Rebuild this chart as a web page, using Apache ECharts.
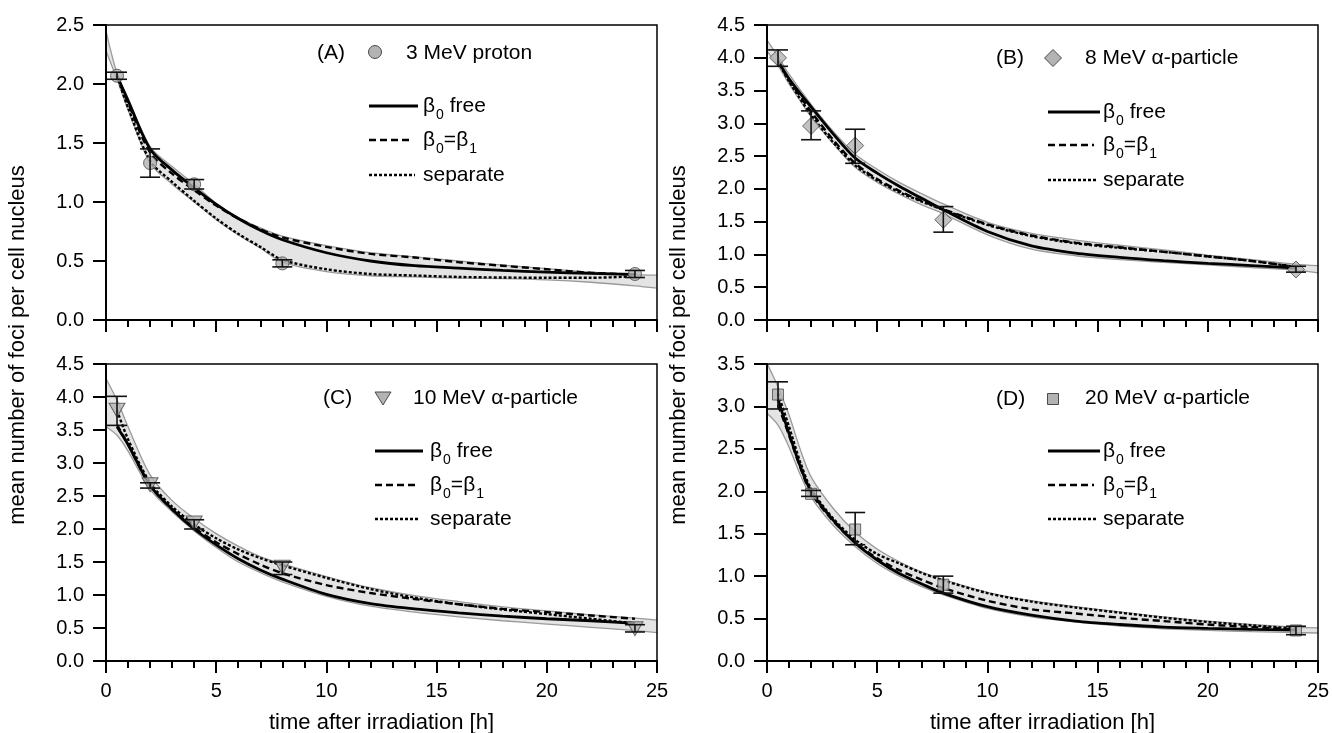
<!DOCTYPE html>
<html><head><meta charset="utf-8">
<script src="https://cdn.jsdelivr.net/npm/echarts@6/dist/echarts.min.js"></script>
<style>html,body{margin:0;padding:0;background:#fff}#c{width:1332px;height:733px}</style>
</head><body><div id="c"></div>
<script>
// ---------------- DATA ----------------
const pointT = [0.5, 2, 4, 8, 24];
const fitT = [0.5, 1, 2, 3, 4, 5, 6, 7, 8, 10, 12, 14, 16, 18, 20, 22, 24];
const bandT = [0, 0.5, 1, 2, 3, 4, 5, 6, 7, 8, 10, 12, 14, 16, 18, 20, 22, 24, 25];
const fitT_D = [0.5, 1, 1.5, 2, 3, 4, 5, 6, 7, 8, 10, 12, 14, 16, 18, 20, 22, 24];
const bandT_D = [0, 0.5, 1, 1.5, 2, 3, 4, 5, 6, 7, 8, 10, 12, 14, 16, 18, 20, 22, 24, 25];

// Panel A: 3 MeV proton
const pointsA = [2.07, 1.33, 1.15, 0.48, 0.39];
const errLoA = [2.04, 1.21, 1.11, 0.45, 0.36];
const errHiA = [2.10, 1.45, 1.19, 0.51, 0.42];
const solidA = [2.07, 1.86, 1.45, 1.27, 1.12, 0.98, 0.86, 0.76, 0.68, 0.57, 0.50, 0.46, 0.44, 0.42, 0.405, 0.395, 0.387];
const dashedA = [2.07, 1.84, 1.42, 1.24, 1.10, 0.97, 0.86, 0.77, 0.70, 0.62, 0.56, 0.53, 0.49, 0.46, 0.43, 0.40, 0.385];
const dottedA = [2.07, 1.80, 1.35, 1.17, 1.01, 0.86, 0.73, 0.62, 0.51, 0.43, 0.39, 0.377, 0.365, 0.36, 0.358, 0.358, 0.37];
const bandUpA = [2.45, 2.09, 1.88, 1.47, 1.30, 1.15, 0.99, 0.87, 0.78, 0.71, 0.63, 0.57, 0.535, 0.50, 0.465, 0.435, 0.405, 0.385, 0.38];
const bandLoA = [2.28, 2.04, 1.78, 1.33, 1.15, 1.00, 0.85, 0.72, 0.61, 0.49, 0.41, 0.375, 0.365, 0.355, 0.35, 0.34, 0.32, 0.29, 0.27];

// Panel B: 8 MeV alpha
const pointsB = [4.00, 2.96, 2.66, 1.53, 0.77];
const errLoB = [3.87, 2.75, 2.39, 1.34, 0.73];
const errHiB = [4.12, 3.19, 2.91, 1.73, 0.82];
const solidB = [3.95, 3.68, 3.25, 2.84, 2.47, 2.24, 2.04, 1.86, 1.68, 1.35, 1.13, 1.02, 0.955, 0.905, 0.865, 0.83, 0.79];
const dashedB = [3.95, 3.66, 3.18, 2.75, 2.39, 2.15, 1.97, 1.82, 1.69, 1.46, 1.29, 1.18, 1.11, 1.04, 0.97, 0.90, 0.81];
const dottedB = [3.95, 3.64, 3.13, 2.71, 2.36, 2.13, 1.95, 1.81, 1.68, 1.45, 1.28, 1.17, 1.10, 1.04, 0.97, 0.90, 0.81];
const bandUpB = [4.27, 4.02, 3.75, 3.29, 2.88, 2.53, 2.30, 2.10, 1.93, 1.77, 1.49, 1.32, 1.22, 1.14, 1.07, 0.99, 0.92, 0.85, 0.83];
const bandLoB = [4.10, 3.88, 3.60, 3.10, 2.69, 2.33, 2.10, 1.92, 1.76, 1.62, 1.30, 1.08, 0.98, 0.92, 0.88, 0.84, 0.80, 0.76, 0.72];

// Panel C: 10 MeV alpha
const pointsC = [3.80, 2.67, 2.09, 1.42, 0.49];
const errLoC = [3.57, 2.62, 2.00, 1.31, 0.44];
const errHiC = [4.01, 2.70, 2.14, 1.50, 0.55];
const solidC = [3.55, 3.28, 2.66, 2.30, 2.00, 1.76, 1.55, 1.38, 1.24, 1.01, 0.87, 0.79, 0.73, 0.68, 0.64, 0.61, 0.57];
const dashedC = [3.58, 3.28, 2.66, 2.30, 2.02, 1.80, 1.62, 1.46, 1.33, 1.15, 1.03, 0.94, 0.86, 0.79, 0.74, 0.69, 0.64];
const dottedC = [3.80, 3.36, 2.70, 2.34, 2.07, 1.86, 1.69, 1.56, 1.45, 1.26, 1.09, 0.96, 0.86, 0.78, 0.71, 0.64, 0.57];
const bandUpC = [4.28, 3.95, 3.55, 2.82, 2.43, 2.16, 1.93, 1.74, 1.58, 1.47, 1.28, 1.11, 0.99, 0.90, 0.82, 0.76, 0.70, 0.65, 0.62];
const bandLoC = [3.55, 3.42, 3.18, 2.60, 2.26, 1.97, 1.72, 1.50, 1.34, 1.20, 0.98, 0.83, 0.74, 0.67, 0.61, 0.56, 0.51, 0.46, 0.43];

// Panel D: 20 MeV alpha
const pointsD = [3.14, 1.97, 1.55, 0.90, 0.36];
const errLoD = [2.97, 1.94, 1.37, 0.80, 0.31];
const errHiD = [3.29, 2.01, 1.75, 1.00, 0.41];
const solidD = [3.08, 2.68, 2.30, 2.00, 1.66, 1.39, 1.19, 1.03, 0.91, 0.80, 0.64, 0.54, 0.47, 0.43, 0.40, 0.385, 0.373, 0.365];
const dashedD = [3.02, 2.66, 2.29, 1.98, 1.65, 1.40, 1.21, 1.07, 0.96, 0.86, 0.71, 0.61, 0.56, 0.51, 0.47, 0.43, 0.40, 0.375];
const dottedD = [3.15, 2.76, 2.35, 2.03, 1.68, 1.43, 1.26, 1.15, 1.04, 0.95, 0.80, 0.70, 0.63, 0.57, 0.51, 0.46, 0.42, 0.38];
const bandUpD = [3.51, 3.23, 2.90, 2.50, 2.17, 1.80, 1.52, 1.32, 1.17, 1.05, 0.96, 0.81, 0.71, 0.64, 0.58, 0.52, 0.47, 0.43, 0.40, 0.39];
const bandLoD = [2.92, 2.78, 2.52, 2.20, 1.93, 1.60, 1.35, 1.15, 1.00, 0.88, 0.78, 0.62, 0.52, 0.46, 0.41, 0.38, 0.36, 0.345, 0.335, 0.33];

const yMax = [2.5, 4.5, 4.5, 3.5];
const xTicks = {min: 0, max: 25, interval: 5};
const labels = ['(A)', '(B)', '(C)', '(D)'];
const particles = ['3 MeV proton', '8 MeV \u03b1-particle', '10 MeV \u03b1-particle', '20 MeV \u03b1-particle'];
const xTitle = 'time after irradiation [h]';
const yTitle = 'mean number of foci per cell nucleus';

// ---------------- BUILD ----------------
const FONT = '"Liberation Sans", Arial, Helvetica, sans-serif';
const SMOOTH = 0.3;
const panels = [
  {t: fitT, bt: bandT, pts: pointsA, lo: errLoA, hi: errHiA, s: solidA, d: dashedA, o: dottedA, bu: bandUpA, bl: bandLoA, sym: 'circle', size: 13, rot: 0},
  {t: fitT, bt: bandT, pts: pointsB, lo: errLoB, hi: errHiB, s: solidB, d: dashedB, o: dottedB, bu: bandUpB, bl: bandLoB, sym: 'diamond', size: 17, rot: 0},
  {t: fitT, bt: bandT, pts: pointsC, lo: errLoC, hi: errHiC, s: solidC, d: dashedC, o: dottedC, bu: bandUpC, bl: bandLoC, sym: 'triangle', size: [16, 14], rot: 180},
  {t: fitT_D, bt: bandT_D, pts: pointsD, lo: errLoD, hi: errHiD, s: solidD, d: dashedD, o: dottedD, bu: bandUpD, bl: bandLoD, sym: 'rect', size: 11, rot: 0}
];
const gridPos = [
  {left: 106, top: 25, width: 551, height: 295},
  {left: 767, top: 25, width: 551, height: 295},
  {left: 106, top: 364, width: 551, height: 297},
  {left: 767, top: 364, width: 551, height: 297}
];
const zip = (a, b) => a.map((v, i) => [v, b[i]]);

const grid = gridPos.map(g => Object.assign({show: true, z: 10, borderColor: '#000', borderWidth: 1.5, backgroundColor: 'transparent', containLabel: false, outerBoundsMode: 'none'}, g));
const xAxis = gridPos.map((g, i) => ({
  type: 'value', gridIndex: i, z: 10, min: xTicks.min, max: xTicks.max, interval: xTicks.interval,
  axisLine: {show: true, onZero: false, lineStyle: {color: '#000', width: 2}},
  axisTick: {show: true, inside: false, length: 12, lineStyle: {color: '#000', width: 2}},
  minorTick: {show: true, splitNumber: 5, length: 7, lineStyle: {color: '#000', width: 2}},
  splitLine: {show: false}, minorSplitLine: {show: false},
  axisLabel: {show: i >= 2, margin: 20, color: '#000', fontSize: 20, fontFamily: FONT},
  name: i >= 2 ? xTitle : '', nameLocation: 'middle', nameGap: 51,
  nameTextStyle: {color: '#000', fontSize: 22, fontFamily: FONT}
}));
const yAxis = gridPos.map((g, i) => ({
  type: 'value', gridIndex: i, z: 10, min: 0, max: yMax[i], interval: 0.5,
  axisLine: {show: true, onZero: false, lineStyle: {color: '#000', width: 2}},
  axisTick: {show: true, inside: false, length: 13, lineStyle: {color: '#000', width: 2}},
  splitLine: {show: false},
  axisLabel: {margin: 22, color: '#000', fontSize: 20, fontFamily: FONT, formatter: v => v.toFixed(1)}
}));

const series = [];
panels.forEach((p, i) => {
  const base = {type: 'line', xAxisIndex: i, yAxisIndex: i, showSymbol: false, symbol: 'none', silent: true, animation: false, smooth: SMOOTH};
  // band: upper filled grey to axis, lower filled white to axis
  series.push(Object.assign({}, base, {z: 1, data: zip(p.bt, p.bu), lineStyle: {color: '#9a9a9a', width: 1.3},
    areaStyle: {color: '#e4e4e4', opacity: 1, origin: 'start'}}));
  series.push(Object.assign({}, base, {z: 1, data: zip(p.bt, p.bl), lineStyle: {color: '#9a9a9a', width: 1.3},
    areaStyle: {color: '#ffffff', opacity: 1, origin: 'start'}}));
  // fit curves
  series.push(Object.assign({}, base, {z: 3, data: zip(p.t, p.s), lineStyle: {color: '#000', width: 2.8, type: 'solid'}}));
  series.push(Object.assign({}, base, {z: 3, data: zip(p.t, p.d), lineStyle: {color: '#000', width: 2.4, type: [7, 4]}}));
  series.push(Object.assign({}, base, {z: 3, data: zip(p.t, p.o), lineStyle: {color: '#000', width: 2.4, type: [3, 2]}}));
  // data points
  series.push({type: 'scatter', xAxisIndex: i, yAxisIndex: i, z: 4, animation: false, silent: true,
    symbol: p.sym, symbolSize: p.size, symbolRotate: p.rot,
    itemStyle: {color: '#b3b3b3', borderColor: '#4a4a4a', borderWidth: 1},
    data: zip(pointT, p.pts)});
  // error bars
  series.push({type: 'custom', xAxisIndex: i, yAxisIndex: i, z: 5, animation: false, silent: true,
    encode: {x: 0, y: [1, 2]},
    data: pointT.map((t, k) => [t, p.lo[k], p.hi[k]]),
    renderItem: (params, api) => {
      const a = api.coord([api.value(0), api.value(1)]);
      const b = api.coord([api.value(0), api.value(2)]);
      const w = 10, st = {stroke: '#111', lineWidth: 1.6};
      return {type: 'group', children: [
        {type: 'line', shape: {x1: a[0], y1: a[1], x2: b[0], y2: b[1]}, style: st},
        {type: 'line', shape: {x1: a[0] - w, y1: a[1], x2: a[0] + w, y2: a[1]}, style: st},
        {type: 'line', shape: {x1: b[0] - w, y1: b[1], x2: b[0] + w, y2: b[1]}, style: st}
      ]};
    }});
});

// ---------------- LEGENDS (graphic) ----------------
const rich = {
  n: {fontSize: 21, fontFamily: FONT, color: '#000'},
  s: {fontSize: 14, fontFamily: FONT, color: '#000', padding: [18, 0, 0, 1]}
};
const leg = [
  {lab: [317, 53], mk: [375, 52], txt: [406, 53], l: [369, 418], ly: [106, 140, 175], tx: 423},
  {lab: [996, 58], mk: [1053, 58], txt: [1085, 58], l: [1048, 1100], ly: [112, 145, 180], tx: 1103},
  {lab: [323, 398], mk: [383, 398], txt: [413, 398], l: [375, 423], ly: [451, 485, 519], tx: 430},
  {lab: [996, 399], mk: [1053, 399], txt: [1085, 398], l: [1048, 1100], ly: [451, 485, 519], tx: 1103}
];
const graphic = [];
const txt = (x, y, s, size) => ({type: 'text', x: x, y: y, z: 100, silent: true,
  style: {text: s, fill: '#000', font: size + 'px ' + FONT, align: 'left', verticalAlign: 'middle', textAlign: 'left', textVerticalAlign: 'middle'}});
leg.forEach((g, i) => {
  graphic.push(txt(g.lab[0], g.lab[1], labels[i], 21));
  graphic.push(txt(g.txt[0], g.txt[1], particles[i], 21));
  const mstyle = {fill: '#b3b3b3', stroke: '#4a4a4a', lineWidth: 1};
  const [mx, my] = g.mk;
  if (i === 0) graphic.push({type: 'circle', z: 100, silent: true, shape: {cx: mx, cy: my, r: 6.5}, style: mstyle});
  if (i === 1) graphic.push({type: 'polygon', z: 100, silent: true, shape: {points: [[mx, my - 8.5], [mx + 8.5, my], [mx, my + 8.5], [mx - 8.5, my]]}, style: mstyle});
  if (i === 2) graphic.push({type: 'polygon', z: 100, silent: true, shape: {points: [[mx - 8, my - 6], [mx + 8, my - 6], [mx, my + 7]]}, style: mstyle});
  if (i === 3) graphic.push({type: 'rect', z: 100, silent: true, shape: {x: mx - 5.5, y: my - 5.5, width: 11, height: 11}, style: mstyle});
  const dashes = [[], [7, 4], [3, 2]];
  const widths = [2.8, 2.4, 2.4];
  const ends = [g.l[1], g.l[1] - 6, g.l[1] - 3];
  g.ly.forEach((y, k) => {
    const st = {stroke: '#000', lineWidth: widths[k]};
    if (dashes[k].length) st.lineDash = dashes[k];
    graphic.push({type: 'line', z: 100, silent: true, shape: {x1: g.l[0], y1: y, x2: ends[k], y2: y}, style: st});
  });
  const texts = ['{n|\u03b2}{s|0}{n| free}', '{n|\u03b2}{s|0}{n|=\u03b2}{s|1}', '{n|separate}'];
  texts.forEach((t, k) => graphic.push({type: 'text', z: 100, silent: true, x: g.tx, y: g.ly[k],
    style: {text: t, rich: rich, fill: '#000', font: '21px ' + FONT, align: 'left', verticalAlign: 'middle', textAlign: 'left', textVerticalAlign: 'middle'}}));
});
// y-axis titles
[18, 679].forEach(x => graphic.push({type: 'text', z: 100, silent: true, x: x, y: 345, rotation: Math.PI / 2,
  style: {text: yTitle, fill: '#000', font: '22px ' + FONT, align: 'center', verticalAlign: 'middle', textAlign: 'center', textVerticalAlign: 'middle'}}));

const chart = echarts.init(document.getElementById('c'), null, {renderer: 'canvas'});
chart.setOption({animation: false, backgroundColor: '#fff', grid, xAxis, yAxis, series, graphic});
</script></body></html>
